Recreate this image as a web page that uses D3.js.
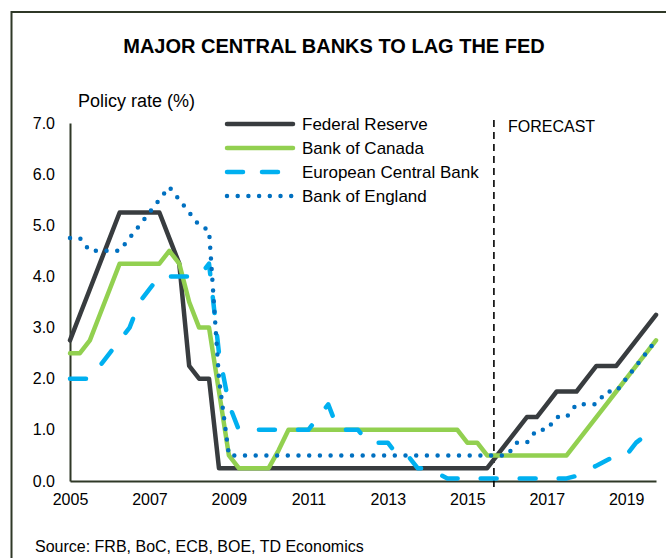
<!DOCTYPE html>
<html>
<head>
<meta charset="utf-8">
<script src="https://cdn.jsdelivr.net/npm/d3@7"></script>
<style>
  body { margin: 0; background: #fff; }
  svg { display: block; font-family: Arial, 'Liberation Sans', sans-serif; }
</style>
</head>
<body>
<div id="chart"></div>
<script>
// quarterly observations, 2005Q1 .. 2019Q4
const years = d3.range(2005, 2020);
const quarters = years.flatMap(y => [0, 0.25, 0.5, 0.75].map(q => y + q));

const fedRate = [
  2.75, 3.25, 3.75, 4.25, 4.75, 5.25, 5.25, 5.25,
  5.25, 5.25, 4.75, 4.25, 2.25, 2.0, 2.0, 0.25,
  0.25, 0.25, 0.25, 0.25, 0.25, 0.25, 0.25, 0.25,
  0.25, 0.25, 0.25, 0.25, 0.25, 0.25, 0.25, 0.25,
  0.25, 0.25, 0.25, 0.25, 0.25, 0.25, 0.25, 0.25,
  0.25, 0.25, 0.25, 0.5, 0.75, 1.0, 1.25, 1.25,
  1.5, 1.75, 1.75, 1.75, 2.0, 2.25, 2.25, 2.25,
  2.5, 2.75, 3.0, 3.25
];
const bocRate = [
  2.5, 2.5, 2.75, 3.25, 3.75, 4.25, 4.25, 4.25,
  4.25, 4.25, 4.5, 4.25, 3.5, 3.0, 3.0, 1.75,
  0.5, 0.25, 0.25, 0.25, 0.25, 0.6, 1.0, 1.0,
  1.0, 1.0, 1.0, 1.0, 1.0, 1.0, 1.0, 1.0,
  1.0, 1.0, 1.0, 1.0, 1.0, 1.0, 1.0, 1.0,
  0.75, 0.75, 0.5, 0.5, 0.5, 0.5, 0.5, 0.5,
  0.5, 0.5, 0.5, 0.75, 1.0, 1.25, 1.5, 1.75,
  2.0, 2.25, 2.5, 2.75
];
const ecbRate = [
  2.0, 2.0, 2.0, 2.25, 2.5, 2.75, 3.0, 3.5,
  3.75, 4.0, 4.0, 4.0, 4.0, 4.0, 4.25, 2.5,
  1.5, 1.0, 1.0, 1.0, 1.0, 1.0, 1.0, 1.0,
  1.0, 1.25, 1.5, 1.0, 1.0, 1.0, 0.75, 0.75,
  0.75, 0.5, 0.5, 0.25, 0.25, 0.15, 0.05, 0.05,
  0.05, 0.05, 0.05, 0.05, 0.05, 0.05, 0.05, 0.05,
  0.05, 0.05, 0.05, 0.1, 0.2, 0.3, 0.4, 0.5,
  0.5, 0.75, 0.9, 1.05
];
const boeRate = [
  4.75, 4.75, 4.5, 4.5, 4.5, 4.5, 4.75, 5.0,
  5.25, 5.5, 5.75, 5.5, 5.25, 5.0, 4.9, 2.0,
  0.5, 0.5, 0.5, 0.5, 0.5, 0.5, 0.5, 0.5,
  0.5, 0.5, 0.5, 0.5, 0.5, 0.5, 0.5, 0.5,
  0.5, 0.5, 0.5, 0.5, 0.5, 0.5, 0.5, 0.5,
  0.5, 0.5, 0.5, 0.5, 0.5, 0.75, 0.75, 1.0,
  1.0, 1.25, 1.25, 1.5, 1.5, 1.5, 1.75, 1.75,
  2.0, 2.25, 2.5, 2.75
];
const yTicks = [0, 1, 2, 3, 4, 5, 6, 7];
const xTicks = [2005, 2007, 2009, 2011, 2013, 2015, 2017, 2019];
const forecastStart = 2015.67;

const series = [
  { name: 'Federal Reserve', values: fedRate, color: '#383c3f', dash: null },
  { name: 'Bank of Canada', values: bocRate, color: '#92d050', dash: null },
  { name: 'European Central Bank', values: ecbRate, color: '#00b0f0', dash: '16 23' },
  { name: 'Bank of England', values: boeRate, color: '#0070c0', dash: '0 10.7' },
];

const W = 666, H = 558;
const axisColor = '#2f3827';

const svg = d3.select('#chart')
  .append('svg')
  .attr('width', W)
  .attr('height', H);

svg.append('rect').attr('width', W).attr('height', H).attr('fill', '#fff');

// outer frame (runs off the right and bottom edges)
svg.append('path')
  .attr('d', `M${W + 5},12H11.5V${H + 5}`)
  .attr('fill', 'none')
  .attr('stroke', axisColor)
  .attr('stroke-width', 2);

svg.append('text')
  .attr('x', 334)
  .attr('y', 53)
  .attr('text-anchor', 'middle')
  .attr('font-size', 20)
  .attr('font-weight', 'bold')
  .text('MAJOR CENTRAL BANKS TO LAG THE FED');

svg.append('text')
  .attr('x', 78)
  .attr('y', 107)
  .attr('font-size', 18)
  .text('Policy rate (%)');

const x = d3.scaleLinear().domain([2005, 2019.75]).range([70, 656]);
const y = d3.scaleLinear().domain([0, 7]).range([481, 123]);

const yAxis = svg.append('g')
  .attr('transform', 'translate(70,0)')
  .call(d3.axisLeft(y).tickValues(yTicks).tickSize(0).tickPadding(15).tickFormat(d3.format('.1f')));
yAxis.select('.domain').attr('stroke', axisColor).attr('stroke-width', 2);
yAxis.selectAll('text').attr('font-size', 16).attr('fill', '#000').style('font-family', 'inherit');

const xAxis = svg.append('g')
  .attr('transform', 'translate(0,481)')
  .call(d3.axisBottom(x).tickValues(xTicks).tickSize(0).tickPadding(13).tickFormat(d3.format('d')));
xAxis.select('.domain').attr('stroke', axisColor).attr('stroke-width', 2);
xAxis.selectAll('text').attr('font-size', 16).attr('fill', '#000').style('font-family', 'inherit');

// forecast divider
svg.append('line')
  .attr('x1', x(forecastStart))
  .attr('x2', x(forecastStart))
  .attr('y1', 120)
  .attr('y2', 488)
  .attr('stroke', '#000')
  .attr('stroke-width', 1.6)
  .attr('stroke-dasharray', '7 5');

svg.append('text')
  .attr('x', 508)
  .attr('y', 132)
  .attr('font-size', 16)
  .text('FORECAST');

const line = d3.line()
  .x((d, i) => x(quarters[i]))
  .y(d => y(d));

svg.selectAll('.series')
  .data(series)
  .enter()
  .append('path')
  .attr('class', 'series')
  .attr('d', d => line(d.values))
  .attr('fill', 'none')
  .attr('stroke', d => d.color)
  .attr('stroke-width', 4.5)
  .attr('stroke-linejoin', 'round')
  .attr('stroke-linecap', 'round')
  .attr('stroke-dasharray', d => d.dash);

// legend
const legend = svg.append('g').attr('transform', 'translate(225,124)');
const row = legend.selectAll('g')
  .data(series)
  .enter()
  .append('g')
  .attr('transform', (d, i) => `translate(0,${i * 24})`);

row.append('line')
  .attr('x1', 2)
  .attr('x2', 68)
  .attr('stroke', d => d.color)
  .attr('stroke-width', 4.5)
  .attr('stroke-linecap', 'round')
  .attr('stroke-dasharray', d => (d.dash === '16 23' ? '16 19' : d.dash));

row.append('text')
  .attr('x', 77)
  .attr('y', 6)
  .attr('font-size', 17)
  .text(d => d.name);

svg.append('text')
  .attr('x', 35)
  .attr('y', 552)
  .attr('font-size', 16)
  .text('Source: FRB, BoC, ECB, BOE, TD Economics');
</script>
</body>
</html>
